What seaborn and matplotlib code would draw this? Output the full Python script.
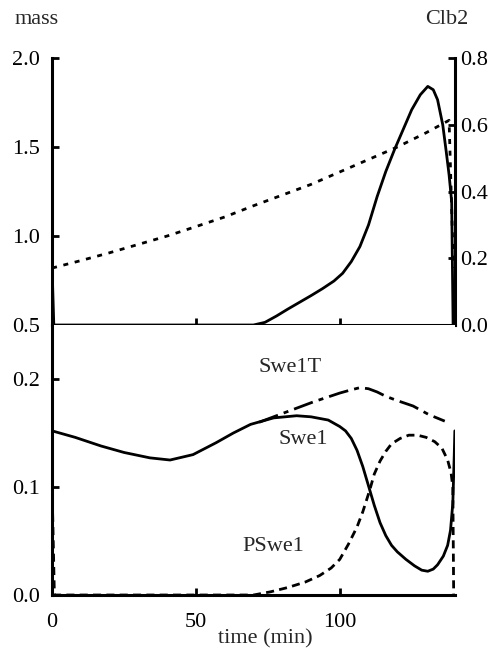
import matplotlib
matplotlib.use("Agg")
import matplotlib.pyplot as plt
import seaborn as sns

sns.set_style("ticks")
plt.rcParams['font.family'] = ['Liberation Serif', 'DejaVu Serif']

# top panel: cell mass (left axis) and Clb2 (right axis)
mass_t = [0, 10, 20, 30, 40, 50, 60, 70, 80, 90, 100, 110, 120, 130, 138, 139.5]
mass = [0.82, 0.862, 0.906, 0.953, 1.0, 1.053, 1.107, 1.17, 1.23, 1.29, 1.36, 1.43, 1.50, 1.58, 1.65, 0.82]

clb2_t = [0, 0.6, 70, 74, 78, 82, 86, 90, 94, 98, 101, 104, 107, 110, 113, 116, 119, 122, 125,
          128, 130.6, 132.5, 134, 135.8, 137, 138, 138.9, 139.4]
clb2 = [0.17, 0.0, 0.0, 0.008, 0.027, 0.048, 0.068, 0.088, 0.109, 0.132, 0.155, 0.19, 0.235, 0.30, 0.385,
        0.46, 0.525, 0.585, 0.645, 0.69, 0.715, 0.705, 0.675, 0.60, 0.52, 0.45, 0.37, 0.0]

# bottom panel: Swe1 forms
swe1_t = [0, 8, 17, 25, 34, 41, 49, 57, 63, 69, 77, 85, 90, 96, 100, 102, 104, 106, 108, 110, 112,
          114, 116, 118, 120, 123, 126, 128.5, 130.6, 132.5, 134, 136, 137.5, 138.5, 139.3, 139.8, 140]
swe1 = [0.152, 0.146, 0.138, 0.132, 0.127, 0.125, 0.130, 0.141, 0.150, 0.158, 0.164, 0.166, 0.165,
        0.162, 0.156, 0.152, 0.145, 0.134, 0.119, 0.101, 0.083, 0.067, 0.055, 0.046, 0.040, 0.033,
        0.027, 0.023, 0.022, 0.024, 0.028, 0.036, 0.046, 0.060, 0.085, 0.130, 0.152]

pswe1_t = [0, 0.8, 70, 76, 82, 88, 93, 97, 100, 103, 106, 108, 110.4, 112, 114, 116, 118, 121, 124,
           127, 130, 133, 135.5, 137.5, 138.7, 139.3, 139.6]
pswe1 = [0.10, 0.0, 0.0, 0.003, 0.007, 0.012, 0.018, 0.025, 0.033, 0.047, 0.063, 0.077, 0.097, 0.112,
         0.124, 0.133, 0.140, 0.145, 0.148, 0.148, 0.146, 0.142, 0.136, 0.125, 0.113, 0.100, 0.0]

swe1t_t = [72, 77, 82, 86, 91, 95.5, 100, 104, 107, 110, 113, 116, 120, 125.5, 131, 136.5]
swe1t = [0.160, 0.165, 0.170, 0.174, 0.179, 0.183, 0.187, 0.190, 0.192, 0.191, 0.188, 0.184, 0.180,
         0.175, 0.167, 0.161]

x_ticks = [0, 50, 100]

FS = 16
LW = 2.0
SP = 2.2

fig = plt.figure(figsize=(4.96, 6.52), dpi=100)
ax1 = fig.add_axes([0.105, 0.5015, 0.812, 0.4095])
ax1r = ax1.twinx()
ax2 = fig.add_axes([0.105, 0.0874, 0.812, 0.4141])

sns.lineplot(x=mass_t, y=mass, ax=ax1, color='black', lw=LW, linestyle=(0, (1.8, 2.4)),
             estimator=None, sort=False)
sns.lineplot(x=clb2_t, y=clb2, ax=ax1r, color='black', lw=LW, estimator=None, sort=False)

sns.lineplot(x=swe1_t, y=swe1, ax=ax2, color='black', lw=LW, estimator=None, sort=False)
sns.lineplot(x=pswe1_t, y=pswe1, ax=ax2, color='black', lw=LW, linestyle=(0, (2.9, 1.9)),
             estimator=None, sort=False)
sns.lineplot(x=swe1t_t, y=swe1t, ax=ax2, color='black', lw=LW, linestyle=(0, (7.2, 2.2, 1.8, 2.2)),
             estimator=None, sort=False)

ax1.set_xlim(0, 140)
ax1.set_ylim(0.5, 2.0)
ax1r.set_ylim(0, 0.8)
ax2.set_xlim(0, 140)
ax2.set_ylim(0, 0.25)

ax1.set_yticks([0.5, 1.0, 1.5, 2.0])
ax1.set_yticklabels(['0.5', '1.0', '1.5', '2.0'])
ax1r.set_yticks([0.0, 0.2, 0.4, 0.6, 0.8])
ax1r.set_yticklabels(['0.0', '0.2', '0.4', '0.6', '0.8'])
ax1.set_xticks(x_ticks)
ax1.set_xticklabels([])
ax2.set_xticks(x_ticks)
ax2.set_xticklabels([str(v) for v in x_ticks])
ax2.set_yticks([0.0, 0.1, 0.2])
ax2.set_yticklabels(['0.0', '0.1', '0.2'])

for a in (ax1, ax1r, ax2):
    for s in a.spines.values():
        s.set_linewidth(SP)
        s.set_color('black')
    a.set_xlabel('')
    a.set_ylabel('')
    a.tick_params(direction='in', length=5, width=2, labelsize=FS, colors='black')

ax1.spines['top'].set_visible(False)
ax1.spines['right'].set_visible(False)
ax1r.spines['top'].set_visible(False)
ax1r.spines['left'].set_visible(False)
ax1r.spines['bottom'].set_visible(False)
ax2.spines['top'].set_visible(False)
ax2.spines['right'].set_visible(False)

ax1.tick_params(axis='y', pad=9)
ax2.tick_params(axis='y', pad=9)
ax1r.tick_params(axis='y', pad=4)
ax2.tick_params(axis='x', pad=13)

ax2.set_xlabel('time (min)', fontsize=FS)
ax2.xaxis.set_label_coords((265 - 52) / 403, -0.125)

ax2.text(82.6, 0.211, 'Swe1T', fontsize=FS, ha='center', va='center')
ax2.text(87.2, 0.144, 'Swe1', fontsize=FS, ha='center', va='center')
ax2.text(77, 0.045, 'PSwe1', fontsize=FS, ha='center', va='center')

fig.text(37 / 496, 1 - 20 / 652, 'mass', fontsize=FS, ha='center', va='center')
fig.text(447 / 496, 1 - 20 / 652, 'Clb2', fontsize=FS, ha='center', va='center')

fig.savefig('out.png', dpi=100, facecolor='white')
